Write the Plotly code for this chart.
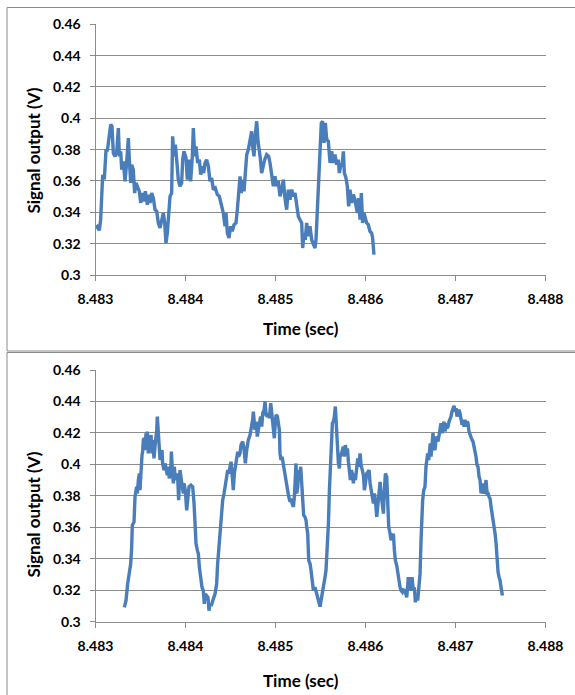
import plotly.graph_objects as go

# ---------------- data ----------------
time_top = [
    8.483000, 8.483020, 8.483043, 8.483057, 8.483069, 8.483080, 8.483098, 8.483106, 8.483117, 8.483131,
    8.483150, 8.483169, 8.483183, 8.483198, 8.483217, 8.483235, 8.483254, 8.483265, 8.483280, 8.483291,
    8.483309, 8.483328, 8.483346, 8.483365, 8.483376, 8.483391, 8.483402, 8.483420, 8.483435, 8.483450,
    8.483465, 8.483487, 8.483502, 8.483520, 8.483531, 8.483554, 8.483576, 8.483591, 8.483606, 8.483624,
    8.483643, 8.483661, 8.483680, 8.483698, 8.483717, 8.483735, 8.483754, 8.483769, 8.483783, 8.483798,
    8.483813, 8.483828, 8.483846, 8.483857, 8.483872, 8.483887, 8.483902, 8.483920, 8.483939, 8.483957,
    8.483969, 8.483983, 8.484006, 8.484020, 8.484039, 8.484057, 8.484076, 8.484087, 8.484102, 8.484117,
    8.484135, 8.484154, 8.484169, 8.484183, 8.484202, 8.484217, 8.484235, 8.484254, 8.484272, 8.484291,
    8.484309, 8.484331, 8.484354, 8.484376, 8.484398, 8.484420, 8.484439, 8.484450, 8.484465, 8.484483,
    8.484502, 8.484520, 8.484539, 8.484561, 8.484576, 8.484591, 8.484606, 8.484620, 8.484635, 8.484650,
    8.484665, 8.484680, 8.484698, 8.484717, 8.484735, 8.484746, 8.484761, 8.484776, 8.484791, 8.484806,
    8.484817, 8.484831, 8.484846, 8.484865, 8.484880, 8.484902, 8.484924, 8.484939, 8.484957, 8.484976,
    8.484994, 8.485013, 8.485031, 8.485050, 8.485068, 8.485087, 8.485105, 8.485124, 8.485143, 8.485161,
    8.485180, 8.485198, 8.485217, 8.485235, 8.485254, 8.485272, 8.485291, 8.485302, 8.485317, 8.485331,
    8.485346, 8.485365, 8.485383, 8.485402, 8.485420, 8.485439, 8.485450, 8.485465, 8.485480, 8.485494,
    8.485509, 8.485524, 8.485539, 8.485554, 8.485569, 8.485587, 8.485606, 8.485624, 8.485643, 8.485661,
    8.485680, 8.485698, 8.485709, 8.485724, 8.485743, 8.485754, 8.485765, 8.485783, 8.485798, 8.485813,
    8.485828, 8.485846, 8.485865, 8.485883, 8.485894, 8.485909, 8.485924, 8.485939, 8.485954, 8.485968,
    8.485983, 8.485998, 8.486013, 8.486031, 8.486050, 8.486068, 8.486079, 8.486094,
]
signal_top = [
    0.3300, 0.3310, 0.3285, 0.3353, 0.3500, 0.3640, 0.3610, 0.3715, 0.3800, 0.3790,
    0.3864, 0.3960, 0.3950, 0.3779, 0.3757, 0.3779, 0.3938, 0.3757, 0.3789, 0.3672,
    0.3725, 0.3598, 0.3715, 0.3874, 0.3736, 0.3587, 0.3704, 0.3672, 0.3523, 0.3587,
    0.3566, 0.3534, 0.3460, 0.3523, 0.3470, 0.3534, 0.3449, 0.3513, 0.3460, 0.3523,
    0.3491, 0.3417, 0.3406, 0.3332, 0.3300, 0.3353, 0.3396, 0.3332, 0.3204, 0.3268,
    0.3417, 0.3502, 0.3523, 0.3885, 0.3757, 0.3832, 0.3736, 0.3608, 0.3566, 0.3587,
    0.3736, 0.3789, 0.3747, 0.3608, 0.3736, 0.3598, 0.3757, 0.3938, 0.3757, 0.3821,
    0.3715, 0.3736, 0.3640, 0.3694, 0.3651, 0.3715, 0.3736, 0.3694, 0.3598, 0.3619,
    0.3545, 0.3555, 0.3513, 0.3502, 0.3449, 0.3396, 0.3311, 0.3396, 0.3268, 0.3236,
    0.3311, 0.3279, 0.3321, 0.3332, 0.3417, 0.3545, 0.3630, 0.3523, 0.3608, 0.3534,
    0.3651, 0.3768, 0.3800, 0.3864, 0.3917, 0.3821, 0.3757, 0.3896, 0.3981, 0.3853,
    0.3779, 0.3747, 0.3651, 0.3704, 0.3736, 0.3768, 0.3757, 0.3715, 0.3619, 0.3566,
    0.3630, 0.3566, 0.3598, 0.3502, 0.3545, 0.3608, 0.3491, 0.3417, 0.3545, 0.3481,
    0.3545, 0.3502, 0.3523, 0.3460, 0.3374, 0.3353, 0.3332, 0.3172, 0.3268, 0.3225,
    0.3332, 0.3247, 0.3311, 0.3225, 0.3204, 0.3172, 0.3225, 0.3438, 0.3672, 0.3885,
    0.3970, 0.3981, 0.3843, 0.3970, 0.3864, 0.3853, 0.3715, 0.3789, 0.3715, 0.3768,
    0.3704, 0.3736, 0.3651, 0.3694, 0.3715, 0.3789, 0.3651, 0.3619, 0.3566, 0.3438,
    0.3545, 0.3460, 0.3513, 0.3481, 0.3438, 0.3396, 0.3491, 0.3353, 0.3523, 0.3332,
    0.3396, 0.3353, 0.3332, 0.3321, 0.3279, 0.3268, 0.3236, 0.3130,
]

time_bottom = [
    8.483320, 8.483339, 8.483357, 8.483372, 8.483391, 8.483402, 8.483409, 8.483428, 8.483439, 8.483457,
    8.483465, 8.483476, 8.483487, 8.483494, 8.483506, 8.483517, 8.483524, 8.483531, 8.483543, 8.483550,
    8.483561, 8.483569, 8.483576, 8.483587, 8.483598, 8.483606, 8.483617, 8.483628, 8.483635, 8.483650,
    8.483661, 8.483672, 8.483680, 8.483687, 8.483698, 8.483709, 8.483717, 8.483728, 8.483739, 8.483746,
    8.483761, 8.483772, 8.483783, 8.483798, 8.483809, 8.483820, 8.483835, 8.483843, 8.483854, 8.483865,
    8.483876, 8.483887, 8.483902, 8.483913, 8.483924, 8.483931, 8.483939, 8.483954, 8.483965, 8.483976,
    8.483983, 8.483998, 8.484013, 8.484024, 8.484039, 8.484061, 8.484080, 8.484095, 8.484106, 8.484117,
    8.484132, 8.484143, 8.484154, 8.484168, 8.484183, 8.484198, 8.484209, 8.484220, 8.484235, 8.484250,
    8.484261, 8.484272, 8.484287, 8.484298, 8.484309, 8.484328, 8.484346, 8.484357, 8.484369, 8.484383,
    8.484402, 8.484413, 8.484428, 8.484443, 8.484457, 8.484469, 8.484480, 8.484494, 8.484506, 8.484517,
    8.484531, 8.484543, 8.484554, 8.484569, 8.484580, 8.484591, 8.484606, 8.484617, 8.484635, 8.484650,
    8.484665, 8.484680, 8.484698, 8.484717,
    8.484735, 8.484746, 8.484754, 8.484765, 8.484772, 8.484784, 8.484798, 8.484809, 8.484821, 8.484835,
    8.484847, 8.484858, 8.484873, 8.484884, 8.484895, 8.484910, 8.484921, 8.484932, 8.484947, 8.484958,
    8.484969, 8.484976, 8.484987, 8.484995, 8.485006, 8.485021, 8.485032, 8.485043, 8.485050, 8.485061,
    8.485073, 8.485088, 8.485099, 8.485110, 8.485125, 8.485136, 8.485147, 8.485162, 8.485173, 8.485184,
    8.485199, 8.485210, 8.485221, 8.485228, 8.485236, 8.485247, 8.485258, 8.485265, 8.485280, 8.485291,
    8.485302, 8.485313, 8.485328, 8.485339, 8.485347, 8.485358, 8.485369, 8.485384, 8.485395, 8.485406,
    8.485421, 8.485439, 8.485450, 8.485465, 8.485480, 8.485495, 8.485506, 8.485521, 8.485532, 8.485550,
    8.485561, 8.485576, 8.485588, 8.485599, 8.485610, 8.485621, 8.485632, 8.485643, 8.485654, 8.485665,
    8.485676, 8.485687, 8.485699, 8.485710, 8.485717, 8.485728, 8.485739, 8.485754, 8.485765, 8.485776,
    8.485791, 8.485799, 8.485810, 8.485821, 8.485832, 8.485843, 8.485854, 8.485865, 8.485876, 8.485888,
    8.485903, 8.485914, 8.485925, 8.485940, 8.485951, 8.485962, 8.485977, 8.485988, 8.486003, 8.486014,
    8.486029, 8.486040, 8.486051, 8.486062, 8.486073, 8.486088, 8.486099, 8.486110, 8.486125, 8.486136,
    8.486147, 8.486162, 8.486173, 8.486184, 8.486199, 8.486210, 8.486221, 8.486236, 8.486247, 8.486258,
    8.486273, 8.486284, 8.486295, 8.486310, 8.486321, 8.486332, 8.486347, 8.486358, 8.486369, 8.486384,
    8.486395, 8.486410, 8.486421, 8.486439, 8.486458, 8.486476, 8.486495,
    8.486506, 8.486517, 8.486532, 8.486543, 8.486554, 8.486569, 8.486580, 8.486591, 8.486606, 8.486617,
    8.486624, 8.486635, 8.486647, 8.486661, 8.486672, 8.486680, 8.486691, 8.486702, 8.486709, 8.486720,
    8.486728, 8.486739, 8.486750, 8.486761, 8.486772, 8.486783, 8.486795, 8.486806, 8.486817, 8.486828,
    8.486839, 8.486850, 8.486861, 8.486872, 8.486884, 8.486895, 8.486906, 8.486917, 8.486928, 8.486939,
    8.486950, 8.486961, 8.486972, 8.486984, 8.486995, 8.487006, 8.487017, 8.487028, 8.487039, 8.487050,
    8.487061, 8.487073, 8.487084, 8.487095, 8.487106, 8.487117, 8.487128, 8.487139, 8.487150, 8.487161,
    8.487173, 8.487184, 8.487195, 8.487206, 8.487217, 8.487228, 8.487239, 8.487250, 8.487262, 8.487273,
    8.487284, 8.487295, 8.487306, 8.487317, 8.487328, 8.487339, 8.487351, 8.487362, 8.487373, 8.487384,
    8.487395, 8.487406, 8.487417, 8.487428, 8.487440, 8.487451, 8.487462, 8.487473, 8.487484, 8.487495,
    8.487506, 8.487517, 8.487521,
]
signal_bottom = [
    0.3091, 0.3134, 0.3240, 0.3293, 0.3368, 0.3474, 0.3613, 0.3634, 0.3794, 0.3857,
    0.3815, 0.3900, 0.3942, 0.3836, 0.3985, 0.4060, 0.4081, 0.4155, 0.4166, 0.4091,
    0.4198, 0.4155, 0.4208, 0.4070, 0.4166, 0.4102, 0.4187, 0.4070, 0.4155, 0.4038,
    0.4113, 0.4155, 0.4219, 0.4304, 0.4198, 0.4070, 0.4028, 0.4070, 0.4091, 0.4006,
    0.3964, 0.4006, 0.3964, 0.3932, 0.3985, 0.3911, 0.3942, 0.4081, 0.3964, 0.3879,
    0.3985, 0.3900, 0.3942, 0.3921, 0.3772, 0.3836, 0.3964, 0.3900, 0.3857, 0.3815,
    0.3879, 0.3836, 0.3708, 0.3794, 0.3857, 0.3868, 0.3857, 0.3751, 0.3623, 0.3496,
    0.3453, 0.3432, 0.3347, 0.3262, 0.3219, 0.3198, 0.3113, 0.3176, 0.3166, 0.3155,
    0.3070, 0.3113, 0.3102, 0.3134, 0.3145, 0.3176, 0.3240, 0.3368, 0.3453, 0.3581,
    0.3666, 0.3772, 0.3815, 0.3879, 0.3900, 0.3964, 0.3942, 0.3985, 0.4017, 0.3942,
    0.3836, 0.3942, 0.3985, 0.4028, 0.4081, 0.4049, 0.4070, 0.4123, 0.4145, 0.4102,
    0.4006, 0.4091, 0.4155, 0.4187,
    0.4240, 0.4283, 0.4336, 0.4262, 0.4219, 0.4272, 0.4177, 0.4219, 0.4262, 0.4304,
    0.4240, 0.4326, 0.4347, 0.4400, 0.4315, 0.4304, 0.4326, 0.4294, 0.4389, 0.4326,
    0.4283, 0.4198, 0.4166, 0.4240, 0.4315, 0.4304, 0.4262, 0.4219, 0.4070, 0.4028,
    0.4049, 0.3996, 0.3964, 0.3921, 0.3879, 0.3815, 0.3794, 0.3762, 0.3783, 0.3751,
    0.3730, 0.3794, 0.3879, 0.4006, 0.3815, 0.3857, 0.3964, 0.3911, 0.3985, 0.3879,
    0.3772, 0.3677, 0.3666, 0.3645, 0.3602, 0.3559, 0.3389, 0.3368, 0.3325, 0.3283,
    0.3198, 0.3219, 0.3198, 0.3155, 0.3123, 0.3096, 0.3134, 0.3198, 0.3240, 0.3283,
    0.3325, 0.3474, 0.3623, 0.3836, 0.3985, 0.4155, 0.4262, 0.4272, 0.4304, 0.4368,
    0.4219, 0.4102, 0.4006, 0.3974, 0.4049, 0.4060, 0.4081, 0.4113, 0.4049, 0.4123,
    0.4070, 0.4102, 0.4017, 0.3964, 0.3900, 0.3964, 0.3942, 0.3879, 0.3942, 0.3900,
    0.4017, 0.4038, 0.3985, 0.4070, 0.3996, 0.3964, 0.3932, 0.3836, 0.3900, 0.3942,
    0.3953, 0.3964, 0.3879, 0.3836, 0.3794, 0.3751, 0.3815, 0.3772, 0.3666, 0.3751,
    0.3836, 0.3889, 0.3815, 0.3730, 0.3687, 0.3836, 0.3942, 0.3921, 0.3772, 0.3602,
    0.3559, 0.3517, 0.3538, 0.3559, 0.3453, 0.3389, 0.3357, 0.3304, 0.3251, 0.3219,
    0.3198, 0.3187, 0.3202, 0.3198, 0.3155, 0.3283, 0.3198,
    0.3240, 0.3283, 0.3198, 0.3219, 0.3123, 0.3176, 0.3134, 0.3198, 0.3304, 0.3517,
    0.3666, 0.3772, 0.3836, 0.3857, 0.3985, 0.4028, 0.4070, 0.4028, 0.4113, 0.4134,
    0.4049, 0.4177, 0.4198, 0.4113, 0.4091, 0.4155, 0.4177, 0.4145, 0.4198, 0.4230,
    0.4262, 0.4198, 0.4240, 0.4272, 0.4208, 0.4262, 0.4230, 0.4240, 0.4272, 0.4283,
    0.4304, 0.4336, 0.4357, 0.4372, 0.4336, 0.4357, 0.4304, 0.4326, 0.4347, 0.4326,
    0.4283, 0.4251, 0.4283, 0.4240, 0.4283, 0.4240, 0.4272, 0.4262, 0.4208, 0.4187,
    0.4177, 0.4155, 0.4145, 0.4113, 0.4091, 0.4049, 0.3996, 0.3985, 0.3921, 0.3900,
    0.3815, 0.3879, 0.3836, 0.3815, 0.3857, 0.3900, 0.3815, 0.3815, 0.3794, 0.3783,
    0.3730, 0.3687, 0.3677, 0.3634, 0.3559, 0.3496, 0.3368, 0.3315, 0.3283, 0.3262,
    0.3219, 0.3176, 0.3166,
]

x_tick_values = [8.483, 8.484, 8.485, 8.486, 8.487, 8.488]
x_tick_labels = ["8.483", "8.484", "8.485", "8.486", "8.487", "8.488"]
y_tick_values = [0.30, 0.32, 0.34, 0.36, 0.38, 0.40, 0.42, 0.44, 0.46]
y_tick_labels = ["0.3", "0.32", "0.34", "0.36", "0.38", "0.4", "0.42", "0.44", "0.46"]
x_title = "Time (sec)"
y_title = "Signal output (V)"

# ---------------- styling ----------------
W, H = 575, 695
FONT = "Lato"
LINE_COLOR = "#4a7ebb"
GRID = "#8c8c8c"
BORDER = "#8a8a8a"

def px_x(p):
    return p / W

def px_y(p):
    return 1 - p / H

x_dom = [px_x(95.5), px_x(545.5)]
top_dom = [px_y(275.0), px_y(24.3)]
bot_dom = [px_y(621.7), px_y(370.0)]

fig = go.Figure()
fig.add_trace(go.Scatter(x=time_top, y=signal_top, mode="lines",
                         line=dict(color=LINE_COLOR, width=3.4), xaxis="x", yaxis="y",
                         showlegend=False, hoverinfo="skip"))
fig.add_trace(go.Scatter(x=time_bottom, y=signal_bottom, mode="lines",
                         line=dict(color=LINE_COLOR, width=3.4), xaxis="x2", yaxis="y2",
                         showlegend=False, hoverinfo="skip"))

tick_font = dict(family=FONT, size=14, color="#000000", weight="bold")

def xaxis(anchor):
    return dict(domain=x_dom, anchor=anchor, range=[8.483, 8.488],
                tickmode="array", tickvals=x_tick_values, ticktext=x_tick_labels,
                showgrid=False, zeroline=False, showline=True, linecolor=GRID, linewidth=1,
                ticks="outside", ticklen=5, tickcolor=GRID, tickwidth=1,
                tickfont=tick_font, ticklabelstandoff=6, automargin=False, fixedrange=True)

def yaxis(anchor, dom):
    return dict(domain=dom, anchor=anchor, range=[0.3, 0.46],
                tickmode="array", tickvals=y_tick_values, ticktext=y_tick_labels,
                showgrid=True, gridcolor=GRID, gridwidth=1, zeroline=False,
                showline=True, linecolor=GRID, linewidth=1,
                ticks="outside", ticklen=5, tickcolor=GRID, tickwidth=1,
                tickfont=tick_font, ticklabelstandoff=6, automargin=False, fixedrange=True)

title_font = dict(family=FONT, size=17, color="#000000", weight="bold")

annotations = []
for ty, yy in [(328, 151), (680.5, 515)]:
    annotations.append(dict(text=x_title, x=px_x(300.6), y=px_y(ty), xref="paper", yref="paper",
                            xanchor="center", yanchor="middle", showarrow=False, font=title_font))
    annotations.append(dict(text=y_title, x=px_x(32.5), y=px_y(yy), xref="paper", yref="paper",
                            xanchor="center", yanchor="middle", showarrow=False, textangle=-90,
                            font=title_font))

shapes = [
    dict(type="rect", xref="paper", yref="paper", x0=px_x(7), x1=px_x(590), y0=px_y(351), y1=px_y(7.5),
         line=dict(color=BORDER, width=1), layer="below"),
    dict(type="rect", xref="paper", yref="paper", x0=px_x(7), x1=px_x(590), y0=px_y(710), y1=px_y(352.5),
         line=dict(color=BORDER, width=1), layer="below"),
]

fig.update_layout(
    width=W, height=H,
    margin=dict(l=0, r=0, t=0, b=0),
    paper_bgcolor="white", plot_bgcolor="white",
    xaxis=xaxis("y"), yaxis=yaxis("x", top_dom),
    xaxis2=xaxis("y2"), yaxis2=yaxis("x2", bot_dom),
    annotations=annotations, shapes=shapes,
    showlegend=False,
)

fig.write_html("out.html", config={"displayModeBar": False},
               post_script="document.body.style.margin='0px';document.body.style.overflow='hidden';")
